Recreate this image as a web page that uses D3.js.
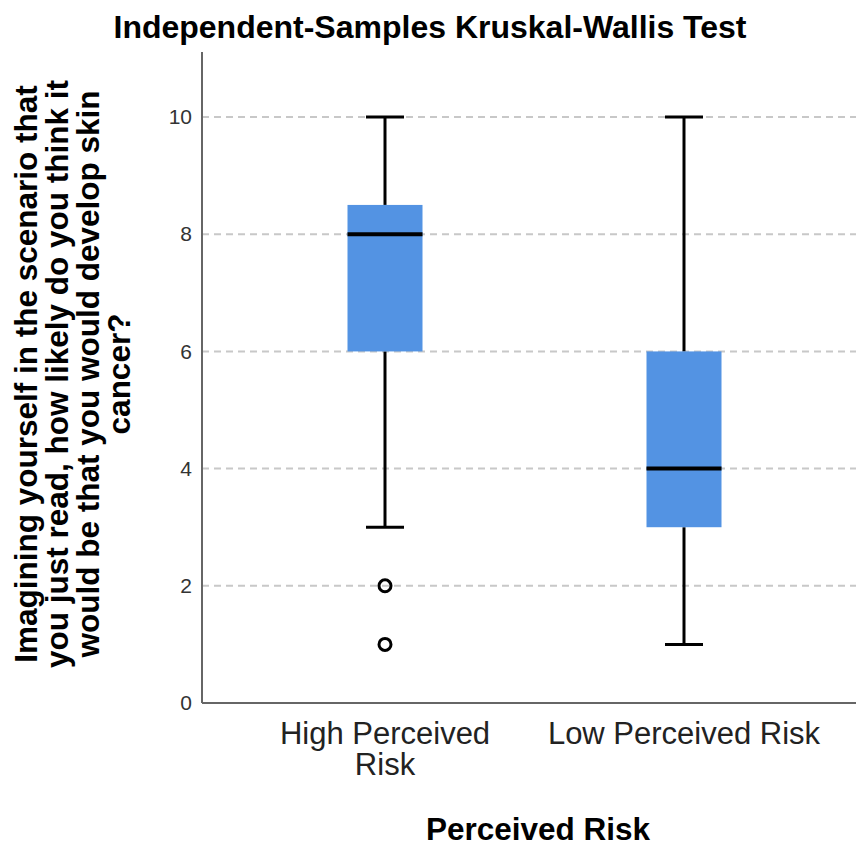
<!DOCTYPE html>
<html>
<head>
<meta charset="utf-8">
<script src="https://cdn.jsdelivr.net/npm/d3@7"></script>
<style>
  html, body { margin: 0; padding: 0; background: #fff; }
  svg { display: block; }
  text { font-family: "Liberation Sans", Arial, Helvetica, sans-serif; }
</style>
</head>
<body>
<svg id="chart" width="856" height="846"></svg>
<script>
// ---- data ----
const categories = ["High Perceived Risk", "Low Perceived Risk"];
const categoryLabelLines = [["High Perceived", "Risk"], ["Low Perceived Risk"]];
const whiskerLow  = [3, 1];
const q1          = [6, 3];
const median      = [8, 4];
const q3          = [8.5, 6];
const whiskerHigh = [10, 10];
const outliers    = [[2, 1], []];
const yTicks      = [0, 2, 4, 6, 8, 10];
const titleText   = "Independent-Samples Kruskal-Wallis Test";
const xTitleText  = "Perceived Risk";
const yTitleLines = [
  "Imagining yourself in the scenario that",
  "you just read, how likely do you think it",
  "would be that you would develop skin",
  "cancer?"
];

// ---- layout ----
const W = 856, H = 846;
const plot = { left: 202, right: 856, top: 52, bottom: 703 };
const boxW = 75, capW = 38;
const boxColor = "#5393e3";

const svg = d3.select("#chart");

const y = d3.scaleLinear().domain([0, 11.11]).range([plot.bottom, plot.top]);
const x = d3.scalePoint().domain(categories).range([385, 684]);

// grid lines
svg.append("g").selectAll("line")
  .data(yTicks.filter(d => d > 0))
  .join("line")
  .attr("x1", plot.left).attr("x2", plot.right)
  .attr("y1", d => y(d)).attr("y2", d => y(d))
  .attr("stroke", "#c8c8c8").attr("stroke-width", 2)
  .attr("stroke-dasharray", "7,5");

// y axis
const yAxis = svg.append("g")
  .attr("transform", `translate(${plot.left},0)`)
  .call(d3.axisLeft(y).tickValues(yTicks).tickSize(0).tickPadding(10).tickFormat(d3.format("d")));
yAxis.select(".domain").remove();
yAxis.selectAll("text")
  .attr("font-size", 21).attr("fill", "#333")
  .attr("font-family", "'Liberation Sans', Arial, sans-serif");

// axis lines
svg.append("line")
  .attr("x1", plot.left).attr("x2", plot.left)
  .attr("y1", plot.top).attr("y2", plot.bottom)
  .attr("stroke", "#666").attr("stroke-width", 2);
svg.append("line")
  .attr("x1", plot.left).attr("x2", plot.right)
  .attr("y1", plot.bottom).attr("y2", plot.bottom)
  .attr("stroke", "#666").attr("stroke-width", 2);

// boxes
const boxes = categories.map((c, i) => ({
  c, lo: whiskerLow[i], q1: q1[i], med: median[i], q3: q3[i], hi: whiskerHigh[i], out: outliers[i]
}));

const g = svg.append("g").selectAll("g").data(boxes).join("g");

// whiskers (vertical)
g.append("line")
  .attr("x1", d => x(d.c)).attr("x2", d => x(d.c))
  .attr("y1", d => y(d.hi)).attr("y2", d => y(d.q3))
  .attr("stroke", "#000").attr("stroke-width", 3);
g.append("line")
  .attr("x1", d => x(d.c)).attr("x2", d => x(d.c))
  .attr("y1", d => y(d.q1)).attr("y2", d => y(d.lo))
  .attr("stroke", "#000").attr("stroke-width", 3);
// caps
g.append("line")
  .attr("x1", d => x(d.c) - capW / 2).attr("x2", d => x(d.c) + capW / 2)
  .attr("y1", d => y(d.hi)).attr("y2", d => y(d.hi))
  .attr("stroke", "#000").attr("stroke-width", 3);
g.append("line")
  .attr("x1", d => x(d.c) - capW / 2).attr("x2", d => x(d.c) + capW / 2)
  .attr("y1", d => y(d.lo)).attr("y2", d => y(d.lo))
  .attr("stroke", "#000").attr("stroke-width", 3);
// box
g.append("rect")
  .attr("x", d => x(d.c) - boxW / 2).attr("width", boxW)
  .attr("y", d => y(d.q3)).attr("height", d => y(d.q1) - y(d.q3))
  .attr("fill", boxColor);
// median
g.append("line")
  .attr("x1", d => x(d.c) - boxW / 2).attr("x2", d => x(d.c) + boxW / 2)
  .attr("y1", d => y(d.med)).attr("y2", d => y(d.med))
  .attr("stroke", "#000").attr("stroke-width", 4);
// outliers
g.selectAll("circle").data(d => d.out.map(v => ({ c: d.c, v }))).join("circle")
  .attr("cx", d => x(d.c)).attr("cy", d => y(d.v)).attr("r", 6)
  .attr("fill", "none").attr("stroke", "#000").attr("stroke-width", 3);

// category labels
categories.forEach((c, i) => {
  const t = svg.append("text")
    .attr("x", x(c)).attr("y", 744)
    .attr("text-anchor", "middle")
    .attr("font-size", 31).attr("fill", "#222");
  categoryLabelLines[i].forEach((ln, j) => {
    t.append("tspan").attr("x", x(c)).attr("dy", j === 0 ? 0 : 31).text(ln);
  });
});

// title
svg.append("text")
  .attr("x", 430).attr("y", 38)
  .attr("text-anchor", "middle")
  .attr("font-size", 32).attr("font-weight", "bold").attr("fill", "#000")
  .text(titleText);

// x axis title
svg.append("text")
  .attr("x", 538).attr("y", 840)
  .attr("text-anchor", "middle")
  .attr("font-size", 31.5).attr("font-weight", "bold").attr("fill", "#000")
  .text(xTitleText);

// y axis title
const yt = svg.append("text")
  .attr("transform", "rotate(-90)")
  .attr("text-anchor", "middle")
  .attr("font-size", 31.5).attr("font-weight", "bold").attr("fill", "#000");
yTitleLines.forEach((ln, j) => {
  yt.append("tspan").attr("x", -374).attr("y", 37 + j * 31).text(ln);
});
</script>
</body>
</html>
